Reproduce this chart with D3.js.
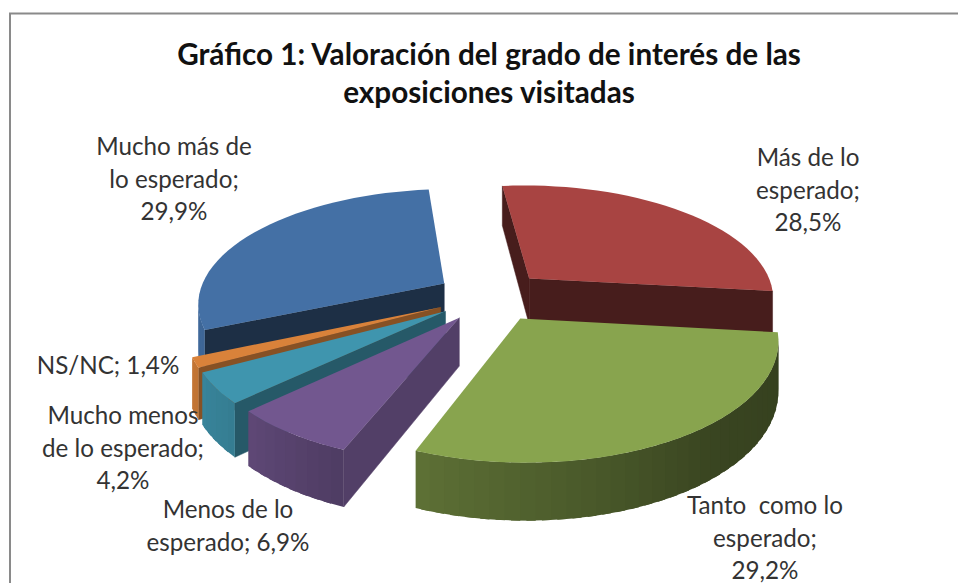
<!DOCTYPE html>
<html><head><meta charset="utf-8">
<script src="https://cdn.jsdelivr.net/npm/d3@7/dist/d3.min.js"></script>
<style>html,body{margin:0;padding:0;background:#fff;overflow:hidden}svg{display:block}
text{font-family:Lato,"Open Sans",sans-serif}</style></head><body>
<svg id="c" width="958" height="583"></svg>
<script>
const categories = ["Más de lo esperado","Tanto como lo esperado","Menos de lo esperado","Mucho menos de lo esperado","NS/NC","Mucho más de lo esperado"];
const values = [28.5,29.2,6.9,4.2,1.4,29.9];
const sliceColors = ["#A84442","#88A44E","#72578F","#3F95AE","#D9823A","#4470A5"];
const labelLines = [["Más de lo","esperado;","28,5%"],["Tanto  como lo","esperado;","29,2%"],["Menos de lo","esperado; 6,9%"],["Mucho menos","de lo esperado;","4,2%"],["NS/NC; 1,4%"],["Mucho más de","lo esperado;","29,9%"]];
const labelAnchors = [[808,166],[765,514],[228,518],[123,424],[108,374],[174,155]];
const titleLines = ["Gráfico 1: Valoración del grado de interés de las","exposiciones visitadas"];
const paintOrder = [5,0,4,3,2,1];

const W=958,H=583;
const cx=491, cy=296, R=246, tilt=0.46, persp=0.16, wallH=47, explode=0.224;
const startDeg=-6;
const svg=d3.select("#c");
svg.append("rect").attr("x",10).attr("y",13.5).attr("width",1000).attr("height",H+50).attr("fill","#fff").attr("stroke","#8a8a8a").attr("stroke-width",2);

const pie=d3.pie().sort(null).startAngle(startDeg*Math.PI/180).endAngle((startDeg+360)*Math.PI/180);
const arcs=pie(values);
// wall brightness by direction around the pie (deg clockwise from the top)
const shade=d3.scaleLinear().domain([90,140,200,230,270,360]).range([0.38,0.42,0.68,0.85,0.98,0.98]).clamp(true);
const radialShade=[0.42,0.42,0.72,0.6,0.62,0.42];
function proj(X,Y,z){const p=1/(1-persp*Y);return [cx+R*X*p, cy+R*tilt*Y*p+z*wallH*p];}
const line=d3.line();
arcs.forEach((a,i)=>{a.idx=i;const m=(a.startAngle+a.endAngle)/2;a.ox=Math.sin(m)*explode;a.oy=-Math.cos(m)*explode;});
function pt(a,t,r,z){return proj(a.ox+r*Math.sin(t),a.oy-r*Math.cos(t),z);}
const g=svg.append("g");
paintOrder.forEach(i=>{
  const a=arcs[i],col=sliceColors[i],n=Math.max(3,Math.ceil((a.endAngle-a.startAngle)/(Math.PI/60)));
  const ts=d3.range(n+1).map(k=>a.startAngle+(a.endAngle-a.startAngle)*k/n);
  const step=ts[1]-ts[0];
  const dark=t=>d3.interpolateRgb("#000",col)(t);
  const s=g.append("g").attr("class","slice").attr("data-name",categories[i]);
  [[a.startAngle,1],[a.endAngle,-1]].forEach(([t,sg])=>{
    const q=[pt(a,t,0,0),pt(a,t,1,0),pt(a,t,1,1),pt(a,t,0,1)];
    if(d3.polygonArea(q)*sg>0) s.append("path").attr("d",line(q)+"Z").attr("fill",dark(radialShade[i])).attr("stroke",dark(radialShade[i])).attr("stroke-width",.5);
  });
  // outer wall: painted as overlapping facets so that no seams show
  d3.pairs(ts).forEach(([t0,t1],k)=>{
    const e=k<n-1?t1+step*0.6:t1;
    const q=[pt(a,t0,1,0),pt(a,e,1,0),pt(a,e,1,1),pt(a,t0,1,1)];
    if(d3.polygonArea(q)>0){
      const deg=(((t0+t1)/2*180/Math.PI)%360+360)%360;
      s.append("path").attr("d",line(q)+"Z").attr("fill",dark(shade(deg)));
    }
  });
  const top=[pt(a,0,0,0)].concat(ts.map(t=>pt(a,t,1,0)));
  s.append("path").attr("d",line(top)+"Z").attr("fill",col);
});

svg.selectAll("text.title").data(titleLines).join("text").attr("class","title")
  .attr("x",489).attr("y",(d,i)=>65+i*38).attr("text-anchor","middle")
  .attr("font-size",29.7).attr("font-weight",700).attr("fill","#111").text(d=>d);
labelLines.forEach((ls,i)=>{
  const [x,y]=labelAnchors[i];
  svg.append("text").attr("x",x).attr("y",y).attr("text-anchor","middle").attr("font-size",24.2).attr("fill","#333").attr("xml:space","preserve")
    .selectAll("tspan").data(ls).join("tspan").attr("x",x).attr("dy",(d,k)=>k?32.5:0).text(d=>d);
});
</script></body></html>
